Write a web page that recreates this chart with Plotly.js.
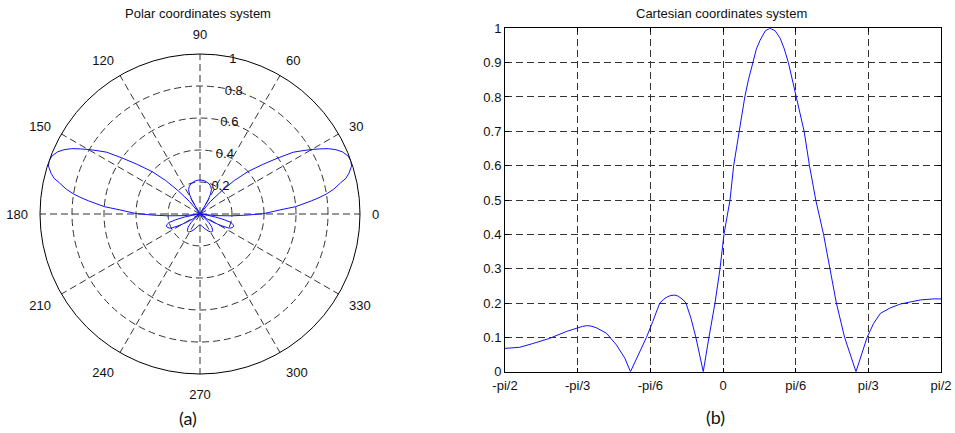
<!DOCTYPE html>
<html>
<head>
<meta charset="utf-8">
<script src="https://cdn.plot.ly/plotly-3.0.1.min.js"></script>
<style>html,body{margin:0;padding:0;background:#fff;}#chart{width:955px;height:433px;}</style>
</head>
<body>
<div id="chart"></div>
<script>
// Angle in degrees (x of the Cartesian plot, from -pi/2 to pi/2)
const angleDeg = [-90, -84, -78.5, -71.6, -64.7, -60, -58, -56.4, -54.5, -52.3, -48.1, -44, -40.5, -38.2,
  -35, -31.6, -29, -26.1, -24.5, -23, -21.5, -19.9, -18.5, -17.5, -16.4, -15.3, -13.2, -11.2, -9.7, -8.15,
  -5.8, -3.3, -1.24, 0.4, 2.9, 4.4, 6.7, 7.8, 9.0, 10.5, 12.5, 13.8, 15.3, 17.5, 19.4, 21.5, 23.6,
  25.3, 27.0, 28.6, 30.2, 31.8, 33.5, 35.7, 38.3, 41.5, 44.3, 46.8, 50.2, 54.9,
  59.5, 62.2, 65, 69.1, 73.2, 77.4, 81.5, 87, 90];
// Normalised pattern magnitude
const pattern = [0.068, 0.071, 0.082, 0.097, 0.117, 0.128, 0.132, 0.134, 0.133, 0.128, 0.112, 0.078, 0.039, 0,
  0.05, 0.1, 0.146, 0.2, 0.211, 0.218, 0.222, 0.223, 0.22, 0.215, 0.209, 0.2, 0.155, 0.1, 0.05, 0,
  0.1, 0.2, 0.3, 0.4, 0.5, 0.6, 0.7, 0.75, 0.8, 0.85, 0.9, 0.94, 0.965, 0.993, 1.0, 0.993, 0.971,
  0.94, 0.9, 0.85, 0.8, 0.75, 0.7, 0.6, 0.5, 0.4, 0.3, 0.2, 0.1, 0,
  0.1, 0.141, 0.17, 0.186, 0.197, 0.203, 0.209, 0.212, 0.212];
const xTickVals = [-90, -60, -30, 0, 30, 60, 90];
const xTickText = ['-pi/2', '-pi/3', '-pi/6', '0', 'pi/6', 'pi/3', 'pi/2'];
const rTickVals = [0.2, 0.4, 0.6, 0.8, 1];
const rTickText = ['0.2', '0.4', '0.6', '0.8', '1'];
const thetaTicks = [0, 30, 60, 90, 120, 150, 180, 210, 240, 270, 300, 330];

const lineCol = '#1010ff';
const gridCol = '#333333';
const dashPat = '7px,4px';
const fnt = 'Liberation Sans, Arial, sans-serif';

// mirrored half of the polar pattern (theta -> 180 - theta)
const mirrored = angleDeg.map(a => 180 - a);

const traces = [
  {type: 'scatterpolar', mode: 'lines', theta: angleDeg, r: pattern, subplot: 'polar',
   line: {color: lineCol, width: 1}, hoverinfo: 'skip', showlegend: false},
  {type: 'scatterpolar', mode: 'lines', theta: mirrored, r: pattern, subplot: 'polar',
   line: {color: lineCol, width: 1}, hoverinfo: 'skip', showlegend: false},
  {type: 'scatter', mode: 'lines', x: angleDeg, y: pattern, xaxis: 'x', yaxis: 'y',
   line: {color: lineCol, width: 1}, hoverinfo: 'skip', showlegend: false}
];

const layout = {
  width: 955, height: 433,
  margin: {l: 0, r: 0, t: 0, b: 0},
  paper_bgcolor: '#fff', plot_bgcolor: '#fff',
  showlegend: false,
  font: {family: fnt, size: 13, color: '#111'},
  polar: {
    domain: {x: [40/955, 360/955], y: [59/433, 379/433]},
    bgcolor: '#fff',
    radialaxis: {
      range: [0, 1], tickvals: rTickVals, ticktext: rTickText,
      angle: 82, tickangle: 82, showline: false, ticks: '',
      ticklabelshift: 11,
      gridcolor: gridCol, griddash: dashPat, gridwidth: 1,
      tickfont: {family: fnt, size: 13, color: '#111'}
    },
    angularaxis: {
      direction: 'counterclockwise', rotation: 0,
      tickvals: thetaTicks, ticktext: thetaTicks.map(String),
      showline: true, linecolor: '#000', linewidth: 1,
      gridcolor: gridCol, griddash: dashPat, gridwidth: 1,
      ticks: 'outside', ticklen: 9, tickcolor: 'rgba(0,0,0,0)',
      tickfont: {family: fnt, size: 13, color: '#111'}
    }
  },
  xaxis: {
    domain: [505/955, 941/955], range: [-90, 90],
    tickvals: xTickVals, ticktext: xTickText,
    showline: true, mirror: 'allticks', linecolor: '#000', linewidth: 1,
    ticks: 'inside', ticklen: 4, tickcolor: '#000', ticklabelstandoff: 2,
    showgrid: true, gridcolor: gridCol, griddash: dashPat, gridwidth: 1,
    zeroline: false, fixedrange: true,
    tickfont: {family: fnt, size: 13, color: '#111'}
  },
  yaxis: {
    domain: [61.3/433, 404.7/433], range: [0, 1], dtick: 0.1, tick0: 0,
    showline: true, mirror: 'allticks', linecolor: '#000', linewidth: 1,
    ticks: 'inside', ticklen: 4, tickcolor: '#000',
    showgrid: true, gridcolor: gridCol, griddash: dashPat, gridwidth: 1,
    zeroline: false, fixedrange: true,
    tickfont: {family: fnt, size: 13, color: '#111'}
  },
  annotations: [
    {text: 'Polar coordinates system', xref: 'paper', yref: 'paper', x: 198/955, y: (433-13.5)/433,
     xanchor: 'center', yanchor: 'middle', showarrow: false, font: {family: fnt, size: 13, color: '#111'}},
    {text: 'Cartesian coordinates system', xref: 'paper', yref: 'paper', x: 721.7/955, y: (433-13.5)/433,
     xanchor: 'center', yanchor: 'middle', showarrow: false, font: {family: fnt, size: 13, color: '#111'}},
    {text: '(a)', xref: 'paper', yref: 'paper', x: 187.7/955, y: (433-418)/433,
     xanchor: 'center', yanchor: 'middle', showarrow: false, font: {family: 'Lato, Open Sans, sans-serif', size: 18, color: '#111'}},
    {text: '(b)', xref: 'paper', yref: 'paper', x: 715/955, y: (433-416.5)/433,
     xanchor: 'center', yanchor: 'middle', showarrow: false, font: {family: 'Lato, Open Sans, sans-serif', size: 18, color: '#111'}}
  ]
};

Plotly.newPlot('chart', traces, layout, {staticPlot: true, displayModeBar: false});
</script>
</body>
</html>
